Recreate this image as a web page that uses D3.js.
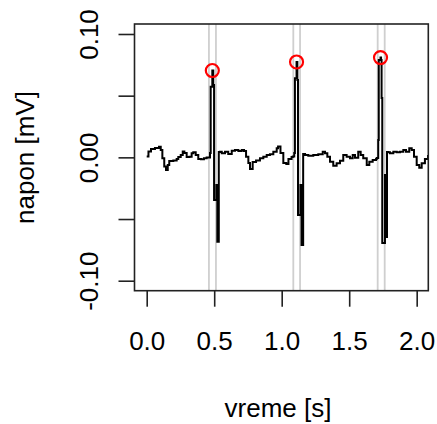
<!DOCTYPE html>
<html>
<head>
<meta charset="utf-8">
<script src="https://cdn.jsdelivr.net/npm/d3@7"></script>
<style>
  body { margin: 0; background: #fff; }
  text { font-family: "Liberation Sans", Arial, sans-serif; fill: #000; }
</style>
</head>
<body>
<div id="chart"></div>
<script>
//ECG trace, time in seconds and voltage in mV
var timeS = [0.000, 0.013, 0.032, 0.061, 0.091, 0.104, 0.116, 0.130, 0.143, 0.156,
  0.167, 0.197, 0.222, 0.234, 0.252, 0.267, 0.279, 0.296, 0.316, 0.333,
  0.345, 0.363, 0.382, 0.402, 0.424, 0.444, 0.456,
  0.469, 0.474, 0.486, 0.493, 0.499, 0.516, 0.523, 0.534,
  0.543, 0.556, 0.580, 0.604, 0.630, 0.654, 0.679, 0.704, 0.721, 0.736,
  0.753, 0.765, 0.785, 0.810, 0.839, 0.864, 0.889, 0.913, 0.938, 0.963,
  0.973, 0.991, 1.012, 1.034, 1.050, 1.073, 1.082,
  1.093, 1.098, 1.110, 1.116, 1.121, 1.139, 1.147, 1.159,
  1.173, 1.197, 1.234, 1.271, 1.304, 1.321, 1.338, 1.358, 1.382, 1.407,
  1.432, 1.456, 1.481, 1.506, 1.526, 1.543, 1.567, 1.585, 1.604, 1.630,
  1.649, 1.674, 1.699, 1.704,
  1.715, 1.719, 1.732, 1.736, 1.740, 1.745, 1.765, 1.770, 1.780,
  1.790, 1.802, 1.827, 1.852, 1.876, 1.901, 1.921, 1.945, 1.963, 1.980,
  2.000, 2.019, 2.037, 2.061, 2.084]

var voltMV = [0.0007, 0.0047, 0.0068, 0.0076, 0.0086, 0.0060, -0.0008, -0.0074, -0.0103, -0.0062,
  -0.0030, -0.0026, -0.0013, 0.0003, 0.0019, 0.0047, 0.0035, 0.0003, 0.0005, 0.0033,
  0.0041, 0.0019, -0.0013, -0.0016, -0.0008, -0.0001, -0.0001,
  0.0035, 0.0573, 0.0704, 0.0587, -0.0346, -0.0224, -0.0684, 0.0043,
  0.0046, 0.0033, 0.0046, 0.0027, 0.0054, 0.0060, 0.0051, 0.0060, 0.0051, 0.0005,
  -0.0046, -0.0094, -0.0038, -0.0026, -0.0008, 0.0005, 0.0019, 0.0025, 0.0046, 0.0073,
  0.0088, 0.0035, -0.0046, -0.0054, -0.0013, 0.0003, 0.0007,
  0.0035, 0.0641, 0.0773, 0.0627, -0.0467, -0.0224, -0.0711, 0.0027,
  0.0019, 0.0013, 0.0019, 0.0025, 0.0046, 0.0033, 0.0005, -0.0035, -0.0068, -0.0048,
  -0.0027, 0.0019, 0.0005, -0.0008, 0.0019, -0.0003, 0.0046, 0.0019, -0.0008, -0.0062,
  -0.0035, -0.0021, -0.0013, -0.0005,
  0.0141, 0.0789, 0.0809, 0.0789, 0.0481, -0.0694, -0.0143, -0.0646, 0.0043,
  0.0041, 0.0033, 0.0046, 0.0041, 0.0046, 0.0060, 0.0046, 0.0073, 0.0060, 0.0005,
  -0.0062, -0.0084, -0.0048, -0.0013, 0.0019]

//Detected R peaks
var peakTimes = [0.486, 1.110, 1.732]
var peakVolts = [0.0704, 0.0773, 0.0809]

//Search windows around each peak
var windowStart = [0.461, 1.086, 1.711]
var windowEnd = [0.513, 1.136, 1.763]

//Axis ticks
var xTicks = [0, 0.5, 1, 1.5, 2]
var xTickLabels = ["0.0", "0.5", "1.0", "1.5", "2.0"]
var yTicks = [-0.1, -0.05, 0, 0.05, 0.1]
var yTickLabels = ["-0.10", "", "0.00", "", "0.10"]

var width = 437
var height = 424

var plotBox = { left: 134.5, right: 428.3, top: 24, bottom: 290.7 }

var svg = d3.select("#chart")
  .append("svg")
  .attr("width", width)
  .attr("height", height)

//Scales (R style 4% padding already folded into the domains)
var xScale = d3.scaleLinear()
  .domain([-0.0904, 2.086])
  .range([plotBox.left, plotBox.right])

var yScale = d3.scaleLinear()
  .domain([-0.1081, 0.1081])
  .range([plotBox.bottom, plotBox.top])

svg.append("clipPath")
  .attr("id", "plotClip")
  .append("rect")
  .attr("x", plotBox.left)
  .attr("y", plotBox.top)
  .attr("width", plotBox.right - plotBox.left)
  .attr("height", plotBox.bottom - plotBox.top)

var plot = svg.append("g").attr("clip-path", "url(#plotClip)")

//Gray window lines
var windowLines = windowStart.concat(windowEnd)
plot.selectAll(".winLine")
  .data(windowLines)
  .enter()
  .append("line")
  .attr("class", "winLine")
  .attr("x1", function(d){ return xScale(d) })
  .attr("x2", function(d){ return xScale(d) })
  .attr("y1", plotBox.top)
  .attr("y2", plotBox.bottom)
  .attr("stroke", "#cfcfcf")
  .attr("stroke-width", 1.8)

//The signal, drawn as a staircase like the sampled original
var ecg = timeS.map(function(t, i){ return { t: t, v: voltMV[i] } })

var line = d3.line()
  .curve(d3.curveStepAfter)
  .x(function(d){ return xScale(d.t) })
  .y(function(d){ return yScale(d.v) })

plot.append("path")
  .datum(ecg)
  .attr("d", line)
  .attr("fill", "none")
  .attr("stroke", "#000")
  .attr("stroke-width", 2)

//Red circles on the peaks
plot.selectAll(".peak")
  .data(peakTimes)
  .enter()
  .append("circle")
  .attr("class", "peak")
  .attr("cx", function(d){ return xScale(d) })
  .attr("cy", function(d, i){ return yScale(peakVolts[i]) })
  .attr("r", 6.5)
  .attr("fill", "none")
  .attr("stroke", "#ff0000")
  .attr("stroke-width", 2.2)

//Frame
svg.append("rect")
  .attr("x", plotBox.left)
  .attr("y", plotBox.top)
  .attr("width", plotBox.right - plotBox.left)
  .attr("height", plotBox.bottom - plotBox.top)
  .attr("fill", "none")
  .attr("stroke", "#222")
  .attr("stroke-width", 1.6)

//Axes
var xAxis = d3.axisBottom(xScale)
  .tickValues(xTicks)
  .tickFormat(function(d, i){ return xTickLabels[i] })
  .tickSize(16)
  .tickSizeOuter(0)

var gx = svg.append("g")
  .attr("transform", "translate(0," + plotBox.bottom + ")")
  .call(xAxis)

gx.select(".domain").remove()
gx.selectAll(".tick line").attr("stroke", "#222").attr("stroke-width", 1.6)
gx.selectAll(".tick text")
  .attr("y", 59.3)
  .attr("dy", 0)
  .style("font-size", "26px")
  .style("font-family", "'Liberation Sans', Arial, sans-serif")
  .attr("fill", "#000")

var yAxis = d3.axisLeft(yScale)
  .tickValues(yTicks)
  .tickFormat(function(d, i){ return yTickLabels[i] })
  .tickSize(16)
  .tickSizeOuter(0)

var gy = svg.append("g")
  .attr("transform", "translate(" + plotBox.left + ",0)")
  .call(yAxis)

gy.select(".domain").remove()
gy.selectAll(".tick line").attr("stroke", "#222").attr("stroke-width", 1.6)
gy.selectAll(".tick text")
  .attr("x", 0)
  .attr("dy", 0)
  .attr("text-anchor", "middle")
  .attr("transform", "translate(-36.5,0) rotate(-90)")
  .style("font-size", "26px")
  .style("font-family", "'Liberation Sans', Arial, sans-serif")
  .attr("fill", "#000")

//Axis titles
svg.append("text")
  .attr("x", 278)
  .attr("y", 416.7)
  .attr("text-anchor", "middle")
  .style("font-size", "26px")
  .text("vreme [s]")

svg.append("text")
  .attr("transform", "translate(34,157.5) rotate(-90)")
  .attr("text-anchor", "middle")
  .style("font-size", "26px")
  .text("napon [mV]")
</script>
</body>
</html>
